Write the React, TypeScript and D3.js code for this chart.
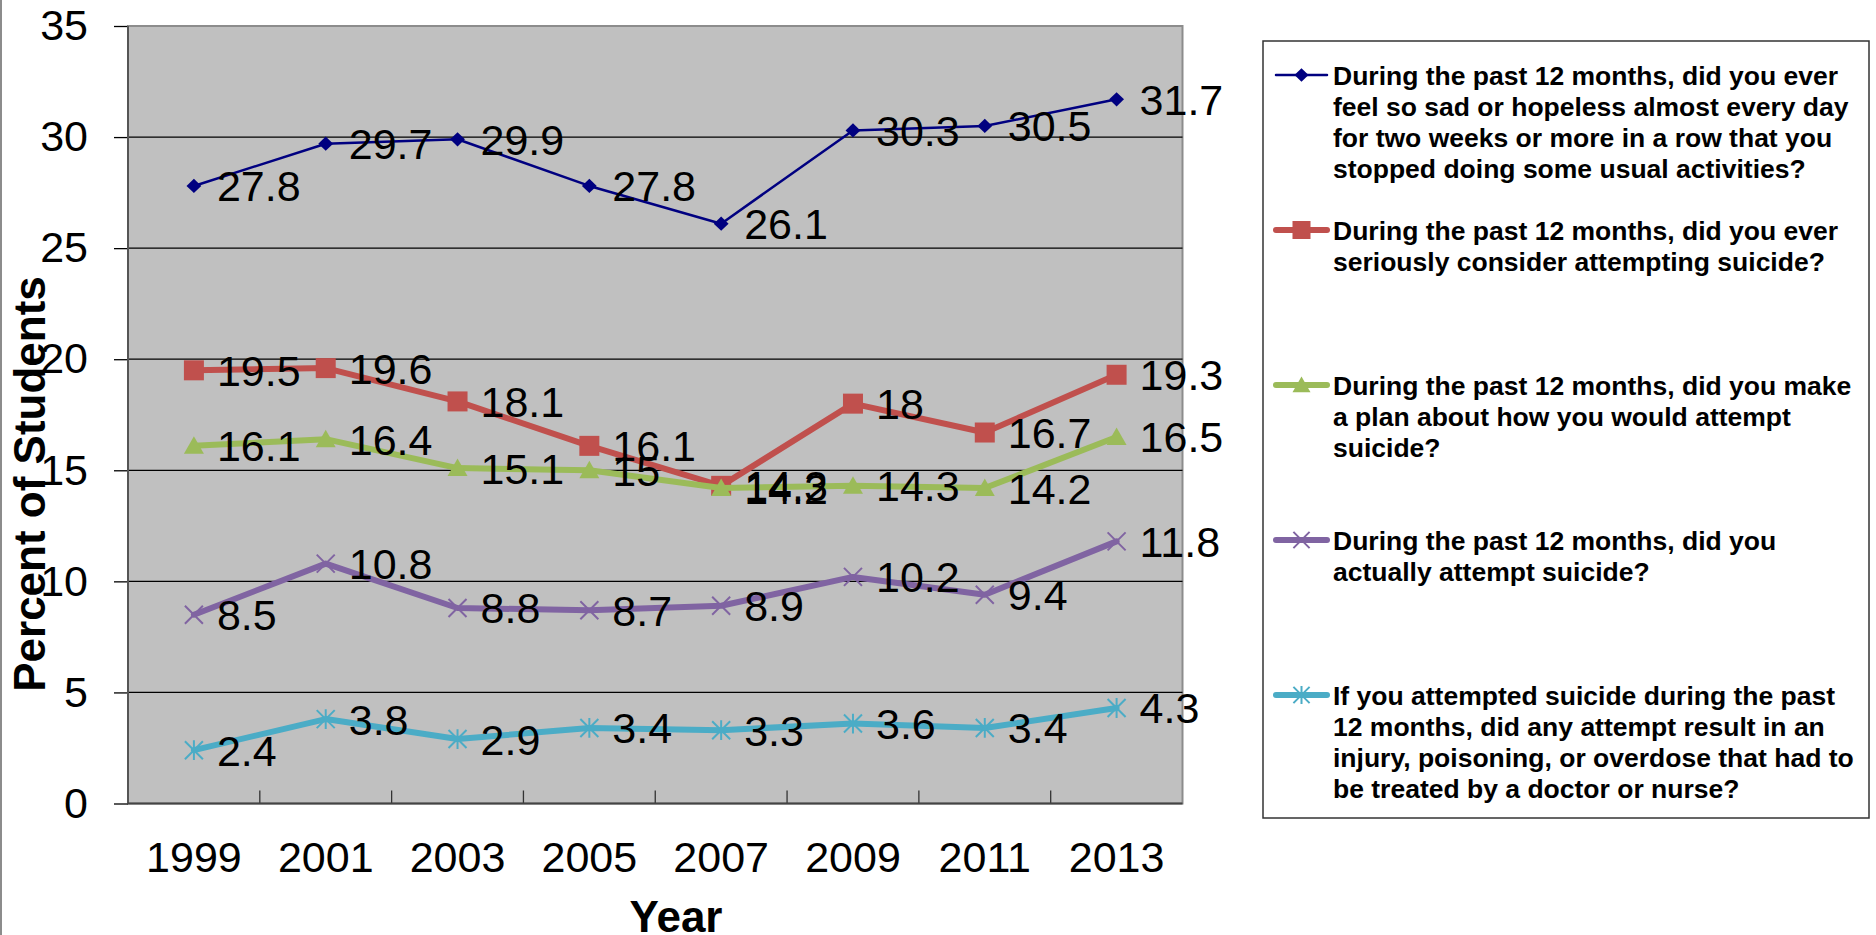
import { useEffect, useRef } from 'react';
import * as d3 from 'd3';

const years = ['1999', '2001', '2003', '2005', '2007', '2009', '2011', '2013'];

const sadHopeless = [27.8, 29.7, 29.9, 27.8, 26.1, 30.3, 30.5, 31.7];
const consideredSuicide = [19.5, 19.6, 18.1, 16.1, 14.3, 18, 16.7, 19.3];
const madePlan = [16.1, 16.4, 15.1, 15, 14.2, 14.3, 14.2, 16.5];
const attempted = [8.5, 10.8, 8.8, 8.7, 8.9, 10.2, 9.4, 11.8];
const injuredAttempt = [2.4, 3.8, 2.9, 3.4, 3.3, 3.6, 3.4, 4.3];

const yTicks = [0, 5, 10, 15, 20, 25, 30, 35];

const legendLines = [
  ['During the past 12 months, did you ever', 'feel so sad or hopeless almost every day', 'for two weeks or more in a row that you', 'stopped doing some usual activities?'],
  ['During the past 12 months, did you ever', 'seriously consider attempting suicide?'],
  ['During the past 12 months, did you make', 'a plan about how you would attempt', 'suicide?'],
  ['During the past 12 months, did you', 'actually attempt suicide?'],
  ['If you attempted suicide during the past', '12 months, did any attempt result in an', 'injury, poisoning, or overdose that had to', 'be treated by a doctor or nurse?'],
];

type MarkerKind = 'diamond' | 'square' | 'triangle' | 'x' | 'star';

const series: { values: number[]; color: string; width: number; marker: MarkerKind }[] = [
  { values: sadHopeless, color: '#000080', width: 2.5, marker: 'diamond' },
  { values: consideredSuicide, color: '#C0504D', width: 6, marker: 'square' },
  { values: madePlan, color: '#9BBB59', width: 6, marker: 'triangle' },
  { values: attempted, color: '#8064A2', width: 6, marker: 'x' },
  { values: injuredAttempt, color: '#4BACC6', width: 6, marker: 'star' },
];

const FONT = '"Liberation Sans", Arial, sans-serif';

// draw a marker centred on (0,0) inside the given group
function drawMarker(g: d3.Selection<SVGGElement, unknown, null, undefined>, kind: MarkerKind, color: string, s: number) {
  if (kind === 'diamond') {
    g.append('path').attr('d', `M0,${-s * 0.75}L${s * 0.78},0L0,${s * 0.75}L${-s * 0.78},0Z`).attr('fill', color);
  } else if (kind === 'square') {
    g.append('rect').attr('x', -s).attr('y', -s).attr('width', 2 * s).attr('height', 2 * s).attr('fill', color);
  } else if (kind === 'triangle') {
    g.append('path').attr('d', `M0,${-s * 0.95}L${s},${s * 0.8}L${-s},${s * 0.8}Z`).attr('fill', color);
  } else {
    const r = s * 0.9;
    g.append('path')
      .attr('d', `M${-r},${-r}L${r},${r}M${-r},${r}L${r},${-r}` + (kind === 'star' ? `M0,${-r * 1.1}L0,${r * 1.1}` : ''))
      .attr('stroke', color)
      .attr('stroke-width', 2)
      .attr('fill', 'none');
  }
}

const App = () => {
  const chartRef = useRef<SVGSVGElement | null>(null);

  useEffect(() => {
    if (!chartRef.current) return;
    document.body.style.margin = '0';

    const svg = d3.select(chartRef.current);
    svg.selectAll('*').remove();

    const plot = { left: 128, right: 1182.5, top: 26, bottom: 803.5 };

    const xScale = d3.scaleBand().domain(years).range([plot.left, plot.right]);
    const xc = (y: string) => (xScale(y) || 0) + xScale.bandwidth() / 2;
    const yScale = d3.scaleLinear().domain([0, 35]).range([plot.bottom, plot.top]);

    svg.append('rect').attr('width', 1876).attr('height', 935).attr('fill', '#fff');
    // chart area left border
    svg.append('line').attr('x1', 1).attr('x2', 1).attr('y1', 0).attr('y2', 935)
      .attr('stroke', '#8c8c8c').attr('stroke-width', 2);

    // plot background
    svg.append('rect')
      .attr('x', plot.left).attr('y', plot.top)
      .attr('width', plot.right - plot.left).attr('height', plot.bottom - plot.top)
      .attr('fill', '#C0C0C0').attr('stroke', '#8c8c8c').attr('stroke-width', 2);

    // gridlines
    svg.append('g').selectAll('line')
      .data(yTicks.filter(t => t > 0 && t < 35))
      .join('line')
      .attr('x1', plot.left).attr('x2', plot.right)
      .attr('y1', d => yScale(d)).attr('y2', d => yScale(d))
      .attr('stroke', '#000').attr('stroke-width', 1.3);

    // y axis
    const yAxis = svg.append('g')
      .attr('transform', `translate(${plot.left},0)`)
      .call(d3.axisLeft(yScale).tickValues(yTicks).tickSize(14).tickPadding(26));
    yAxis.select('.domain').remove();
    yAxis.selectAll('line').attr('stroke', '#000').attr('stroke-width', 1.3);
    yAxis.selectAll('text').attr('font-size', 43).attr('font-family', FONT).attr('fill', '#000');

    // x axis: labels at band centers, ticks at band edges pointing inward
    const xAxis = svg.append('g')
      .attr('transform', `translate(0,${plot.bottom})`)
      .call(d3.axisBottom(xScale).tickSize(0));
    xAxis.select('.domain').remove();
    xAxis.selectAll('text')
      .attr('y', 68).attr('dy', 0)
      .attr('font-size', 43).attr('font-family', FONT).attr('fill', '#000');

    svg.append('g').selectAll('line')
      .data(years.slice(1))
      .join('line')
      .attr('x1', d => xScale(d) || 0).attr('x2', d => xScale(d) || 0)
      .attr('y1', plot.bottom).attr('y2', plot.bottom - 13)
      .attr('stroke', '#333').attr('stroke-width', 1.3);

    svg.append('line')
      .attr('x1', plot.left).attr('x2', plot.left).attr('y1', plot.top).attr('y2', plot.bottom)
      .attr('stroke', '#555').attr('stroke-width', 2);
    svg.append('line')
      .attr('x1', plot.left).attr('x2', plot.right).attr('y1', plot.bottom).attr('y2', plot.bottom)
      .attr('stroke', '#444').attr('stroke-width', 2);

    // series
    const line = d3.line<number>()
      .x((_, i) => xc(years[i]))
      .y(d => yScale(d));

    series.forEach(s => {
      svg.append('path')
        .datum(s.values)
        .attr('d', line)
        .attr('fill', 'none')
        .attr('stroke', s.color)
        .attr('stroke-width', s.width)
        .attr('stroke-linejoin', 'round')
        .attr('stroke-linecap', 'round');
      s.values.forEach((v, i) => {
        const g = svg.append('g').attr('transform', `translate(${xc(years[i])},${yScale(v)})`);
        drawMarker(g, s.marker, s.color, s.marker === 'diamond' ? 9.5 : 10);
      });
    });

    // data labels
    series.forEach(s => {
      svg.append('g').selectAll('text')
        .data(s.values)
        .join('text')
        .attr('x', (_, i) => xc(years[i]) + 23)
        .attr('y', d => yScale(d))
        .attr('dy', '0.36em')
        .attr('font-size', 43)
        .attr('font-family', FONT)
        .attr('fill', '#000')
        .text(d => String(d));
    });

    // axis titles
    svg.append('text')
      .attr('transform', 'translate(45,484) rotate(-90)')
      .attr('text-anchor', 'middle')
      .attr('font-size', 44).attr('font-weight', 'bold').attr('font-family', FONT)
      .text('Percent of Students');
    svg.append('text')
      .attr('x', 676).attr('y', 932)
      .attr('text-anchor', 'middle')
      .attr('font-size', 44).attr('font-weight', 'bold').attr('font-family', FONT)
      .text('Year');

    // legend
    const legend = svg.append('g');
    legend.append('rect')
      .attr('x', 1263).attr('y', 41).attr('width', 606).attr('height', 777)
      .attr('fill', '#fff').attr('stroke', '#333').attr('stroke-width', 1.5);

    series.forEach((s, i) => {
      const cy = 75 + i * 155;
      legend.append('line')
        .attr('x1', 1276).attr('x2', 1327).attr('y1', cy).attr('y2', cy)
        .attr('stroke', s.color).attr('stroke-width', s.width)
        .attr('stroke-linecap', 'round');
      const g = legend.append('g').attr('transform', `translate(1301.5,${cy})`);
      drawMarker(g, s.marker, s.color, s.marker === 'diamond' ? 9 : 9);
      legend.append('g').selectAll('text')
        .data(legendLines[i])
        .join('text')
        .attr('x', 1333)
        .attr('y', (_, j) => cy + j * 31)
        .attr('dy', '0.36em')
        .attr('font-size', 26.5)
        .attr('font-weight', 'bold')
        .attr('font-family', FONT)
        .attr('fill', '#000')
        .text(d => d);
    });
  }, []);

  return (
    <svg ref={chartRef} width={1876} height={935} style={{ display: 'block', position: 'absolute', left: 0, top: 0 }}></svg>
  );
};

export default App;
